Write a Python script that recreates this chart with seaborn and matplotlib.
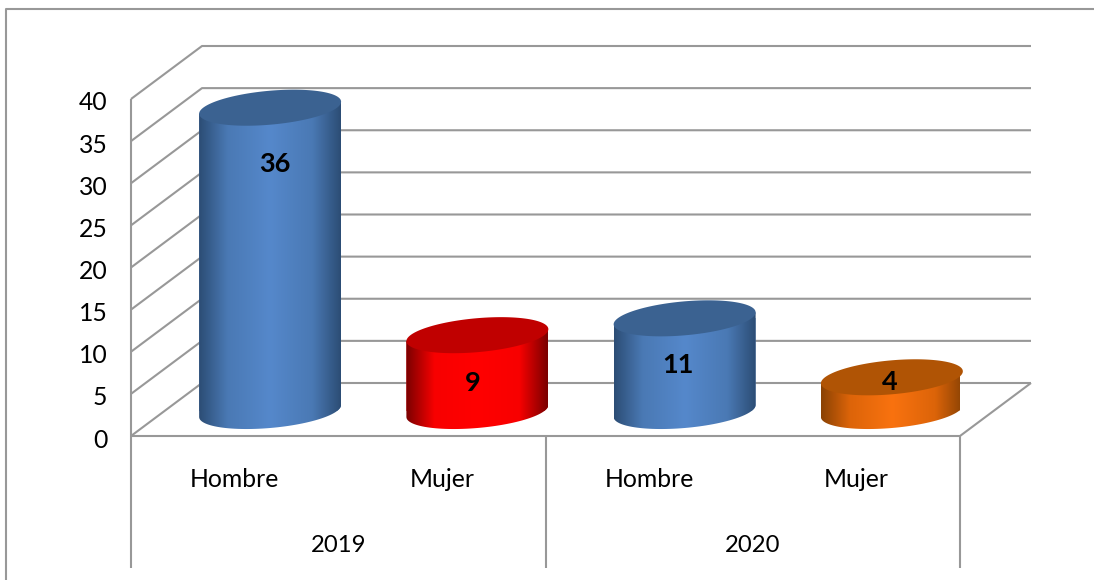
"""
Hombre / Mujer por año, cilindros con pseudo 3D
"""
import matplotlib
matplotlib.use("Agg")
import matplotlib.pyplot as plt
import numpy as np
import seaborn as sns
from matplotlib.colors import LinearSegmentedColormap
from matplotlib.patches import Polygon
from matplotlib.transforms import Affine2D

bar_keys = ["2019 Hombre", "2019 Mujer", "2020 Hombre", "2020 Mujer"]
sex_labels = ["Hombre", "Mujer", "Hombre", "Mujer"]
values = [36, 9, 11, 4]
years = ["2019", "2020"]
y_ticks = [0, 5, 10, 15, 20, 25, 30, 35, 40]

mid_colors = ["#5588cb", "#ff0000", "#5588cb", "#f9720f"]
shoulder_colors = ["#4a79b4", "#f80000", "#4a79b4", "#dc6409"]
edge_colors = ["#2c4d75", "#7a0000", "#2c4d75", "#8a4204"]
top_colors = ["#3b6291", "#c00000", "#3b6291", "#b05405"]
label_shift = [(5, -56), (-5, -48), (-7, -47), (-2, -5)]

W, H = 1094, 580
GRID = "#989898"
LW = 1.5
DEPTH_X, DEPTH_Y = 71, 53
FONT = ["Lato", "DejaVu Sans"]

sns.set_theme(style="white")
plt.rcParams["font.family"] = FONT

fig = plt.figure(figsize=(W / 100, H / 100), dpi=100)
ax = fig.add_axes([131 / W, 1 - 436 / H, 829 / W, 337 / H])
ax.patch.set_visible(False)

sns.barplot(x=bar_keys, y=values, hue=bar_keys, palette=mid_colors,
            width=0.685, legend=False, ax=ax)
ax.set_xlim(-0.5, 3.5)
ax.set_ylim(0, 40)
sns.despine(ax=ax, bottom=True, left=True, top=True, right=True)

# pixels per data unit, the axes has a fixed size
sx = 829 / 4
sy = 337 / 40
dx, dy = DEPTH_X / sx, DEPTH_Y / sy
mid_depth = ax.transData + Affine2D().translate(DEPTH_X / 2, 25)

line_kw = dict(color=GRID, lw=LW, clip_on=False, zorder=0.5, solid_capstyle="butt")

# pared lateral y pared del fondo
for v in y_ticks:
    ax.plot([-0.5, -0.5 + dx, 3.5 + dx], [v, v + dy, v + dy], **line_kw)
ax.plot([-0.5, -0.5], [0, 40], **line_kw)
# suelo
ax.plot([-0.5, 3.5, 3.5 + dx], [0, 0, dy], **line_kw)

# separadores del eje de categorias
sep_tr = ax.get_xaxis_transform()
for x in [-0.5, 1.5, 3.5]:
    ax.plot([x, x], [0, -132 / 337], transform=sep_tr, color=GRID, lw=LW,
            clip_on=False, zorder=0.5, solid_capstyle="butt")

# cilindros
bars = [p for c in ax.containers for p in c]
t = np.linspace(0, 2 * np.pi, 121)
for i, bar in enumerate(bars):
    x0 = bar.get_x()
    w = bar.get_width()
    h = bar.get_height()
    cx = x0 + w / 2
    a = w / 2
    b, k = 17 / sy, 6 / sy

    top = np.column_stack([cx + a * np.cos(t), h + b * np.sin(t) + k * np.cos(t)])
    low = np.linspace(np.pi, 2 * np.pi, 61)
    bottom = np.column_stack([cx + a * np.cos(low), b * np.sin(low) + k * np.cos(low)])
    body = np.vstack([bottom, [[x0 + w, h + k], [x0, h - k]]])

    clip = Polygon(body, closed=True, transform=mid_depth)
    bar.set_transform(mid_depth)
    bar.set_clip_path(clip)
    bar.set_linewidth(0)

    cmap = LinearSegmentedColormap.from_list(
        "cyl", [(0, edge_colors[i]), (0.2, shoulder_colors[i]), (0.5, mid_colors[i]),
                (0.8, shoulder_colors[i]), (1, edge_colors[i])])
    im = ax.imshow(np.linspace(0, 1, 256).reshape(1, -1), cmap=cmap, aspect="auto",
                   extent=[x0, x0 + w, -b - k, h + k], transform=mid_depth,
                   zorder=2, clip_on=True)
    im.set_clip_path(clip)

    ax.add_patch(Polygon(top, closed=True, transform=mid_depth, facecolor=top_colors[i],
                         edgecolor="none", clip_on=False, zorder=3))

    ax.annotate(str(values[i]), xy=(cx, h), xycoords=mid_depth,
                xytext=label_shift[i], textcoords="offset pixels",
                ha="center", va="center", fontsize=19.5, fontweight="bold",
                color="black", zorder=4)

ax.set_xlim(-0.5, 3.5)
ax.set_ylim(0, 40)

ax.set_xticks(range(4))
ax.set_xticklabels(sex_labels)
ax.set_yticks(y_ticks)
ax.tick_params(axis="x", length=0, pad=23, labelsize=17.8, labelcolor="black")
ax.tick_params(axis="y", length=0, pad=17, labelsize=17.8, labelcolor="black")
ax.set_xlabel("")
ax.set_ylabel("")
for label in ax.get_yticklabels():
    label.set_transform(label.get_transform() + Affine2D().translate(0, -2))

# nivel de los años
for j, year in enumerate(years):
    ax.text(0.5 + 2 * j, -109 / 337, year, transform=sep_tr, ha="center", va="center",
            fontsize=17.2, color="black")

# marco del grafico, abierto a la derecha y abajo
fig.add_artist(plt.Line2D([6 / W, 6 / W, 1], [0, 1 - 9 / H, 1 - 9 / H], color=GRID, lw=LW))

fig.savefig("out.png", dpi=100)
